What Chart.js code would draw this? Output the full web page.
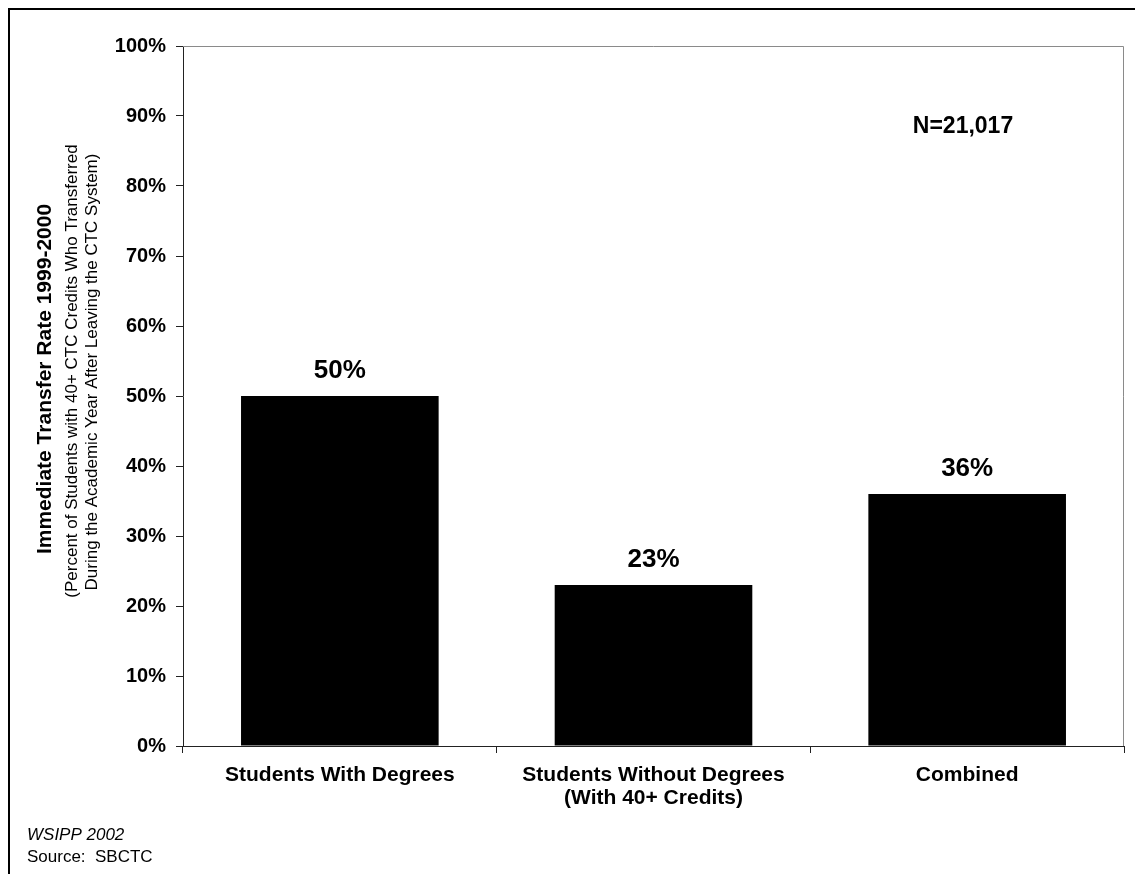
<!DOCTYPE html>
<html>
<head>
<meta charset="utf-8">
<script src="https://cdn.jsdelivr.net/npm/chart.js@4.4.1/dist/chart.umd.min.js"></script>
<style>
  html, body { margin: 0; padding: 0; background: #fff; }
  canvas { display: block; }
</style>
</head>
<body>
<canvas id="transferChart" width="1135" height="874"></canvas>
<script>
// ── DATA ──
const categories = [
  ['Students With Degrees'],
  ['Students Without Degrees', '(With 40+ Credits)'],
  ['Combined']
];
const transferRates = [50, 23, 36];
const sampleNote = 'N=21,017';
const axisTitle = 'Immediate Transfer Rate 1999-2000';
const axisSubtitle = [
  '(Percent of Students with 40+ CTC Credits Who Transferred',
  'During the Academic Year After Leaving the CTC System)'
];
const footerLines = ['WSIPP 2002', 'Source:  SBCTC'];

const FONT = "Arial, 'Liberation Sans', sans-serif";
const AXIS_DARK = '#222';

// ── EXTRAS: frame, plot border, value labels, notes ──
const extrasPlugin = {
  id: 'extras',
  afterDraw(chart) {
    const ctx = chart.ctx;
    const area = chart.chartArea;
    ctx.save();

    // outer frame (only top and left edges fall inside the canvas)
    ctx.strokeStyle = '#000';
    ctx.lineWidth = 2;
    ctx.beginPath();
    ctx.moveTo(9, 880);
    ctx.lineTo(9, 9);
    ctx.lineTo(1140, 9);
    ctx.stroke();

    // grey top and right edge of plot area
    ctx.strokeStyle = '#8a8a8a';
    ctx.lineWidth = 1;
    ctx.beginPath();
    ctx.moveTo(area.left, area.top + 0.5);
    ctx.lineTo(area.right - 0.5, area.top + 0.5);
    ctx.lineTo(area.right - 0.5, area.bottom);
    ctx.stroke();

    // value labels above bars
    ctx.fillStyle = '#000';
    ctx.font = 'bold 26px ' + FONT;
    ctx.textAlign = 'center';
    ctx.textBaseline = 'middle';
    const meta = chart.getDatasetMeta(0);
    meta.data.forEach((bar, i) => {
      ctx.fillText(transferRates[i] + '%', bar.x, bar.y - 25);
    });

    // sample size
    ctx.font = 'bold 23px ' + FONT;
    ctx.fillText(sampleNote, 963, 127);

    // y axis title (rotated)
    ctx.save();
    ctx.translate(45, 379);
    ctx.rotate(-Math.PI / 2);
    ctx.font = 'bold 21px ' + FONT;
    ctx.fillText(axisTitle, 0, 0);
    ctx.font = '17px ' + FONT;
    ctx.fillText(axisSubtitle[0], 8, 27);
    ctx.fillText(axisSubtitle[1], 7, 47);
    ctx.restore();

    // footer
    ctx.textAlign = 'left';
    ctx.font = 'italic 17px ' + FONT;
    ctx.fillText(footerLines[0], 27, 835);
    ctx.font = '17px ' + FONT;
    ctx.fillText(footerLines[1], 27, 857);

    ctx.restore();
  }
};

new Chart(document.getElementById('transferChart'), {
  type: 'bar',
  data: {
    labels: categories,
    datasets: [{
      data: transferRates,
      backgroundColor: '#000',
      borderWidth: 0,
      barPercentage: 0.63,
      categoryPercentage: 1
    }]
  },
  options: {
    responsive: false,
    animation: false,
    layout: { padding: { top: 46, right: 11, left: 0, bottom: 0 } },
    plugins: { legend: { display: false }, tooltip: { enabled: false } },
    scales: {
      x: {
        grid: { display: true, drawOnChartArea: false, drawTicks: true, tickLength: 7, color: AXIS_DARK, offset: true },
        border: { display: true, color: AXIS_DARK, width: 1 },
        ticks: { color: '#000', padding: 10, maxRotation: 0, autoSkip: false, font: { family: FONT, size: 21, weight: 'bold', lineHeight: 1.12 } },
        afterFit: s => { s.height = 128; }
      },
      y: {
        min: 0, max: 100,
        grid: { display: true, drawOnChartArea: false, drawTicks: true, tickLength: 7, color: AXIS_DARK },
        border: { display: true, color: AXIS_DARK, width: 1 },
        ticks: { stepSize: 10, color: '#000', padding: 10, callback: v => v + '%', font: { family: FONT, size: 20, weight: 'bold' } },
        afterFit: s => { s.width = 183; }
      }
    }
  },
  plugins: [extrasPlugin]
});
</script>
</body>
</html>
